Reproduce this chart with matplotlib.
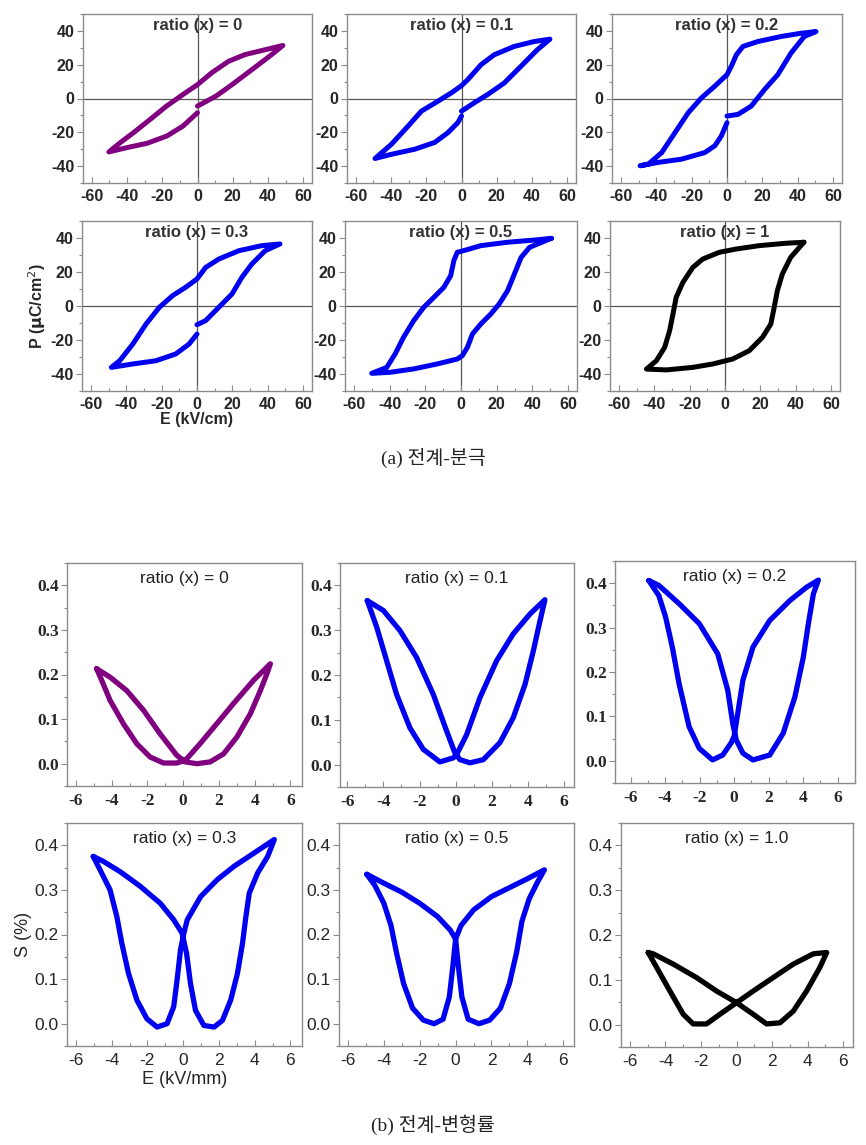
import matplotlib
matplotlib.use('Agg')
import matplotlib.pyplot as plt
from matplotlib.ticker import MultipleLocator

plt.rcParams['axes.unicode_minus'] = False

# ---- P-E loops: E (kV/cm), P (uC/cm2)
pe_titles = ['ratio (x) = 0', 'ratio (x) = 0.1', 'ratio (x) = 0.2',
             'ratio (x) = 0.3', 'ratio (x) = 0.5', 'ratio (x) = 1']
pe_colors = ['#800080', '#0000f0', '#0000f0', '#0000f0', '#0000f0', '#000000']

pe_E_00 = [0, 10.5, 19.6, 30.8, 42, 48.5, 38.2, 27, 17.6, 8.2, 0, -8.2, -17.6, -26.9, -36.3, -43.7, -50.3,
           -39.8, -28.6, -17.4, -8.2, 0]
pe_P_00 = [-4.5, 1.4, 8.2, 17, 25.9, 31.4, 28.8, 26, 22, 15.3, 8.2, 2.4, -4.5, -12.4, -20.2, -26, -31.6,
           -29, -26.5, -22.2, -16.3, -8.4]

pe_E_01 = [0, 7.3, 14.9, 24.3, 33.7, 43, 50.2, 41.2, 29.9, 18.6, 11.1, 3.6, 0, -5.8, -13.4, -22.8, -30.3,
           -39.7, -49.1, -39.7, -26.5, -15.2, -7.7, -2.1, 0]
pe_P_01 = [-7.5, -2.5, 2.4, 9.2, 19, 28.8, 35.1, 33.7, 30.8, 25.9, 20, 11.2, 7.6, 3.3, -1.6, -7.5, -16.3,
           -27, -35.5, -33, -30, -26, -20.2, -14.3, -10.4]

pe_E_02 = [0, 6.2, 13.7, 21.2, 28.7, 36.2, 43.7, 50.3, 41.8, 30.6, 17.4, 9, 5.3, 2.4, 0, -6.9, -14.4,
           -21.9, -29.4, -36.9, -44.4, -49.1, -38.8, -25.7, -12.6, -6.9, -3.2, 0]
pe_P_02 = [-10.4, -9.4, -4.5, 5.3, 14.1, 26.9, 36.7, 39.6, 38.6, 36.7, 33.7, 30.8, 25.9, 19, 14.1, 7.3, 0.4,
           -8.4, -20.2, -32, -38.8, -39.8, -37.8, -35.9, -32, -28, -22.2, -14.3]

pe_E_03 = [0, 4.9, 12.3, 19.8, 25.4, 31, 38.5, 46.9, 36.6, 23.6, 12.3, 4.9, 0, -6.4, -13.8, -21.3, -28.8,
           -36.3, -43.7, -48.4, -36.3, -23.2, -12, -4.5, 0]
pe_P_03 = [-11, -8.6, -0.8, 7.1, 16.9, 24.7, 32.5, 36.5, 35.5, 32.5, 27.6, 22.7, 15.9, 11, 6.1, -0.8, -10.6,
           -22.4, -32.2, -36.1, -34.1, -32.2, -28.2, -22.4, -16.5]

pe_E_05 = [50.6, 41.2, 26.1, 11.1, 2.6, -2.1, -4, -5.8, -9.6, -15.2, -20.9, -26.5, -32.2, -36.9, -41.6, -50,
           -39.7, -26.5, -13.4, -2.1, 0.75, 3.6, 6.4, 11.1, 16.7, 21.4, 26.1, 29.9, 33.7, 38.4, 50.6]
pe_P_05 = [39.8, 38.8, 37.5, 35.5, 32.9, 31.6, 26.7, 17.8, 11, 5.1, -0.8, -8.6, -18.4, -28.2, -36.1, -39.6,
           -39, -37, -34.1, -31.2, -29.2, -24.3, -16.5, -10.6, -4.7, 1.2, 9, 18.8, 28.6, 34.5, 39.8]

pe_E_10 = [44.6, 34.3, 19.3, 6.2, -3.2, -12.6, -18.2, -23.8, -27.6, -29.4, -31.3, -34.1, -38.8, -44.4,
           -33.2, -18.2, -6.9, 4.3, 13.7, 21.2, 25.9, 27.8, 29.6, 32.4, 37.1, 44.6]
pe_P_10 = [37.5, 36.9, 35.5, 33.5, 31.6, 27.6, 22.7, 13.9, 5.1, -4.7, -14.5, -24.3, -32.2, -37.1,
           -37.6, -36.1, -34.1, -31.2, -26.3, -18.4, -10.6, -0.8, 9, 18.8, 28.6, 37.5]

# ---- S-E butterfly loops: E (kV/mm), S (%)
se_titles = ['ratio (x) = 0', 'ratio (x) = 0.1', 'ratio (x) = 0.2',
             'ratio (x) = 0.3', 'ratio (x) = 0.5', 'ratio (x) = 1.0']
se_colors = pe_colors

se_E_00 = [-4.84, -4.56, -4.09, -3.35, -2.6, -1.85, -1.1, -0.36, 0, 0.2, 0.95, 1.89, 2.82, 3.94, 4.88,
           4.69, 4.32, 3.76, 3.01, 2.26, 1.51, 0.77, 0.11, -0.36, -1.29, -2.22, -3.16, -4.09, -4.84]
se_S_00 = [0.213, 0.187, 0.142, 0.09, 0.045, 0.015, 0.0015, 0.0015, 0.006, 0.011, 0.045, 0.09, 0.135, 0.187, 0.224,
           0.202, 0.164, 0.112, 0.06, 0.022, 0.004, 0, 0.004, 0.019, 0.067, 0.12, 0.164, 0.194, 0.213]

se_E_01 = [-4.89, -4.37, -3.82, -3.27, -2.53, -1.79, -0.87, -0.13, 0.05, 0.61, 1.35, 2.27, 3.19, 4.11, 4.94,
           4.67, 4.3, 3.84, 3.19, 2.45, 1.53, 0.79, 0.24, -0.04, -0.5, -1.24, -2.16, -3.08, -4, -4.89]
se_S_01 = [0.366, 0.307, 0.232, 0.157, 0.082, 0.034, 0.006, 0.015, 0.022, 0.067, 0.15, 0.232, 0.292, 0.336, 0.368,
           0.321, 0.254, 0.179, 0.105, 0.049, 0.011, 0.004, 0.011, 0.026, 0.075, 0.157, 0.239, 0.299, 0.344, 0.366]

se_E_02 = [-4.94, -4.36, -3.97, -3.58, -3.19, -2.61, -2.02, -1.25, -0.66, -0.18, 0, 0.21, 0.51, 1.09, 2.06,
           3.23, 4.2, 4.88, 4.59, 4.3, 4.01, 3.52, 2.84, 2.06, 1.09, 0.51, 0.12, -0.08, -0.37, -0.95, -2.02,
           -3.19, -4.36, -4.94]
se_S_02 = [0.406, 0.372, 0.324, 0.256, 0.174, 0.077, 0.028, 0.002, 0.013, 0.04, 0.055, 0.107, 0.182, 0.256, 0.316,
           0.361, 0.391, 0.407, 0.376, 0.309, 0.234, 0.144, 0.062, 0.013, 0.002, 0.017, 0.047, 0.084, 0.159, 0.241,
           0.309, 0.354, 0.395, 0.406]

se_E_03 = [-5.03, -4.65, -4.09, -3.71, -3.43, -3.06, -2.59, -2.03, -1.46, -0.9, -0.53, -0.34, -0.15, 0.04,
           0.23, 0.98, 1.91, 2.85, 3.98, 5.1, 4.73, 4.17, 3.7, 3.51, 3.32, 3.04, 2.66, 2.2, 1.73, 1.16, 0.69,
           0.41, 0.19, -0.06, -0.53, -1.28, -2.4, -3.53, -4.47, -5.03]
se_S_03 = [0.375, 0.345, 0.3, 0.24, 0.18, 0.113, 0.053, 0.011, -0.0075, 0, 0.038, 0.098, 0.165, 0.203,
           0.233, 0.285, 0.323, 0.353, 0.383, 0.413, 0.375, 0.338, 0.293, 0.24, 0.18, 0.113, 0.053, 0.0075,
           -0.0075, -0.004, 0.03, 0.09, 0.158, 0.203, 0.233, 0.27, 0.308, 0.341, 0.364, 0.375]

se_E_05 = [-4.95, -4.5, -4, -3.6, -3.3, -2.9, -2.4, -1.8, -1.2, -0.7, -0.35, -0.15, 0, 0.3, 1, 2, 3, 4, 4.95,
           4.6, 4.1, 3.7, 3.4, 3, 2.5, 1.9, 1.3, 0.7, 0.35, 0.15, 0, -0.3, -1, -2, -3, -4, -4.95]
se_S_05 = [0.335, 0.31, 0.27, 0.22, 0.16, 0.09, 0.035, 0.008, 0.0, 0.01, 0.06, 0.13, 0.19, 0.22, 0.255, 0.285,
           0.305, 0.325, 0.345, 0.32, 0.28, 0.23, 0.16, 0.09, 0.035, 0.008, 0.0, 0.01, 0.06, 0.13, 0.19, 0.21,
           0.24, 0.27, 0.295, 0.315, 0.335]

se_E_10 = [-4.97, -4.5, -3.75, -3, -2.44, -1.69, -0.94, 0, 0.94, 2.06, 3.19, 4.32, 5.07, 4.69, 3.94, 3.19,
           2.44, 1.69, 0.94, 0, -1.13, -2.25, -3.56, -4.69, -4.97]
se_S_10 = [0.161, 0.128, 0.075, 0.023, 0.0015, 0.0015, 0.023, 0.049, 0.075, 0.105, 0.135, 0.158, 0.161, 0.128,
           0.075, 0.03, 0.004, 0.0015, 0.023, 0.049, 0.075, 0.105, 0.135, 0.158, 0.161]

pe_data = [(pe_E_00, pe_P_00), (pe_E_01, pe_P_01), (pe_E_02, pe_P_02),
           (pe_E_03, pe_P_03), (pe_E_05, pe_P_05), (pe_E_10, pe_P_10)]
se_data = [(se_E_00, se_S_00), (se_E_01, se_S_01), (se_E_02, se_S_02),
           (se_E_03, se_S_03), (se_E_05, se_S_05), (se_E_10, se_S_10)]

W, H = 866, 1145
fig = plt.figure(figsize=(W / 100, H / 100), dpi=100)


def box(left, top, right, bottom):
    # pixel box -> figure fraction
    return [left / W, 1 - bottom / H, (right - left) / W, (bottom - top) / H]


# axes boxes in pixels (left, top, right, bottom)
pe_boxes = [(83, 14, 312, 183), (347, 14, 576, 183), (612, 14, 842, 183),
            (82, 221, 312, 391), (345, 221, 577, 391), (610, 221, 840, 391)]
se_boxes = [(67, 563, 302, 786), (340, 563, 574, 787), (615, 561, 855, 783),
            (67, 823, 302, 1046), (339, 823, 574, 1046), (621, 823, 853, 1047)]
se_xlims = [(-6.5, 6.65), (-6.4, 6.55), (-6.9, 7.0), (-6.5, 6.65), (-6.5, 6.6), (-6.5, 6.55)]

grey = '#8c8c8c'
txt = '#262626'

for i in range(6):
    ax = fig.add_axes(box(*pe_boxes[i]))
    E, P = pe_data[i]
    ax.axhline(0, color='#555555', lw=0.9, zorder=1)
    ax.axvline(0, color='#555555', lw=0.9, zorder=1)
    ax.plot(E, P, color=pe_colors[i], lw=3.6, solid_joinstyle='round', solid_capstyle='round', zorder=3)
    ax.set_xlim(-65, 65)
    ax.set_ylim(-50, 50)
    ax.xaxis.set_major_locator(MultipleLocator(20))
    ax.xaxis.set_minor_locator(MultipleLocator(10))
    ax.yaxis.set_major_locator(MultipleLocator(20))
    ax.yaxis.set_minor_locator(MultipleLocator(10))
    ax.tick_params(axis='x', which='both', direction='in', colors=grey, labelcolor=txt, labelsize=11.5, pad=4)
    ax.tick_params(axis='y', which='both', direction='out', colors=grey, labelcolor=txt, labelsize=11.5, pad=2)
    ax.tick_params(which='major', length=4, width=0.8)
    ax.tick_params(which='minor', length=2.5, width=0.8)
    for lab in ax.get_xticklabels() + ax.get_yticklabels():
        lab.set_fontweight('bold')
        lab.set_fontfamily('Liberation Sans')
    for s in ax.spines.values():
        s.set_color(grey)
        s.set_linewidth(1.0)
    ax.text(0.5, 0.975, pe_titles[i], transform=ax.transAxes, ha='center', va='top',
            fontsize=12, fontweight='bold', color='#333333', family='Liberation Sans', zorder=4)
    if i == 3:
        ax.set_ylabel(r'P ($\mathbf{\mu}$C/cm$^2$)', fontsize=11.5, fontweight='bold', color=txt,
                      family='Liberation Sans', labelpad=2)
        ax.set_xlabel('E (kV/cm)', fontsize=11.5, fontweight='bold', color=txt,
                      family='Liberation Sans', labelpad=0)
        ax.xaxis.set_label_coords(0.5, -0.125)

for i in range(6):
    ax = fig.add_axes(box(*se_boxes[i]))
    E, S = se_data[i]
    ax.plot(E, S, color=se_colors[i], lw=3.8, solid_joinstyle='round', solid_capstyle='round', zorder=3)
    ax.set_xlim(*se_xlims[i])
    ax.set_ylim(-0.05, 0.45)
    ax.xaxis.set_major_locator(MultipleLocator(2))
    ax.xaxis.set_minor_locator(MultipleLocator(1))
    ax.yaxis.set_major_locator(MultipleLocator(0.1))
    ax.yaxis.set_minor_locator(MultipleLocator(0.05))
    ax.set_yticks([0, 0.1, 0.2, 0.3, 0.4])
    ax.set_yticklabels(['0.0', '0.1', '0.2', '0.3', '0.4'])
    ax.tick_params(axis='x', which='both', direction='in', colors=grey, labelcolor=txt, labelsize=12.5, pad=5)
    ax.tick_params(axis='y', which='both', direction='out', colors=grey, labelcolor=txt, labelsize=12.5, pad=2)
    ax.tick_params(which='major', length=4, width=0.8)
    ax.tick_params(which='minor', length=2.5, width=0.8)
    row1 = i < 3
    for lab in ax.get_xticklabels() + ax.get_yticklabels():
        if row1:
            lab.set_fontfamily('Liberation Serif')
            lab.set_fontweight('bold')
        else:
            lab.set_fontfamily('Liberation Sans')
    for s in ax.spines.values():
        s.set_color(grey)
        s.set_linewidth(1.0)
    ax.text(0.5, 0.965, se_titles[i], transform=ax.transAxes, ha='center', va='top',
            fontsize=12.5, color='#222222', family='Liberation Sans', zorder=4)
    if i == 3:
        ax.set_ylabel('S (%)', fontsize=13, color=txt, family='Liberation Sans', labelpad=2)
        ax.set_xlabel('E (kV/mm)', fontsize=13, color=txt, family='Liberation Sans', labelpad=2)

fig.text(0.5, 1 - 458 / H, '(a) 전계-분극', ha='center', va='center', fontsize=14,
         family=['Liberation Serif', 'Noto Sans CJK KR'], color='#222222')
fig.text(0.5, 1 - 1125 / H, '(b) 전계-변형률', ha='center', va='center', fontsize=14,
         family=['Liberation Serif', 'Noto Sans CJK KR'], color='#222222')

fig.savefig('out.png', dpi=100, facecolor='white')
